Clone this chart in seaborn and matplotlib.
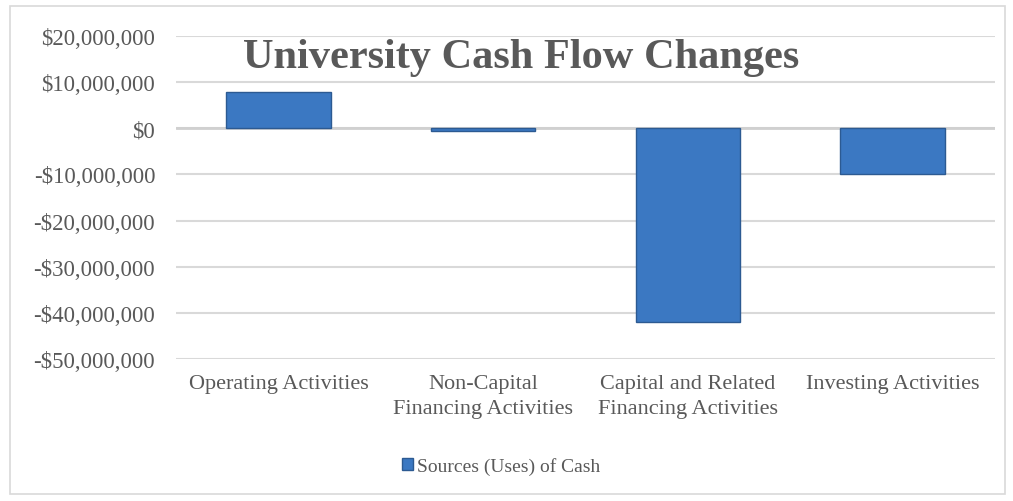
import matplotlib
matplotlib.use("Agg")
import matplotlib.pyplot as plt
import matplotlib.patches as mpatches
import matplotlib.ticker as mticker
import seaborn as sns
import pandas as pd

categories = [
    "Operating Activities",
    "Non-Capital\nFinancing Activities",
    "Capital and Related\nFinancing Activities",
    "Investing Activities",
]
cash_flow = [7800000, -500000, -42000000, -9800000]
series_name = "Sources (Uses) of Cash"
y_ticks = [20000000, 10000000, 0, -10000000, -20000000, -30000000, -40000000, -50000000]

df = pd.DataFrame({"Category": categories, "Value": cash_flow})

sns.set_theme(style="white")
plt.rcParams["font.family"] = ["Liberation Serif", "DejaVu Serif"]

fig = plt.figure(figsize=(10.13, 5.02), dpi=100)
ax = fig.add_axes([176 / 1013, 1 - 360 / 502, (995 - 176) / 1013, (360 - 37) / 502])

bar_color = "#3B78C2"
sns.barplot(data=df, x="Category", y="Value", color=bar_color, width=0.51,
            saturation=1, ax=ax, zorder=3, edgecolor="#2C5A92", linewidth=1.0)

ax.set_ylim(-50000000, 20000000)
ax.set_yticks(y_ticks)


def money(v, pos):
    if v < 0:
        return "-${:,.0f}".format(-v)
    return "${:,.0f}".format(v)


ax.yaxis.set_major_formatter(mticker.FuncFormatter(money))
ax.grid(axis="y", color="#D9D9D9", linewidth=1.5, zorder=0)
ax.axhline(0, color="#D0D0D0", linewidth=2.0, zorder=1)
for s in ax.spines.values():
    s.set_visible(False)
ax.set_xlabel("")
ax.set_ylabel("")
ax.tick_params(axis="y", labelsize=16.5, labelcolor="#595959", length=0, pad=15)
ax.tick_params(axis="x", labelsize=16, labelcolor="#595959", length=0, pad=11)
for lbl in ax.get_xticklabels():
    lbl.set_verticalalignment("top")
    lbl.set_linespacing(1.38)

fig.text(521 / 1013, 1 - 68 / 502, "University Cash Flow Changes", ha="center", va="baseline",
         fontsize=30.5, fontweight="bold", color="#595959")

handle = mpatches.Patch(facecolor=bar_color, edgecolor="#2C5A92", label=series_name)
fig.legend(handles=[handle], loc="center", bbox_to_anchor=(501 / 1013, 1 - 467 / 502),
           frameon=False, fontsize=14, handlelength=0.55, handleheight=0.55,
           handletextpad=0.2, labelcolor="#595959")

# light frame around the whole chart
border = mpatches.Rectangle((10 / 1013, 7 / 502), (1005 - 10) / 1013, (495 - 7) / 502,
                            transform=fig.transFigure, fill=False, edgecolor="#D9D9D9",
                            linewidth=1.2)
fig.patches.append(border)

fig.savefig("out.png", dpi=100, facecolor="white")
